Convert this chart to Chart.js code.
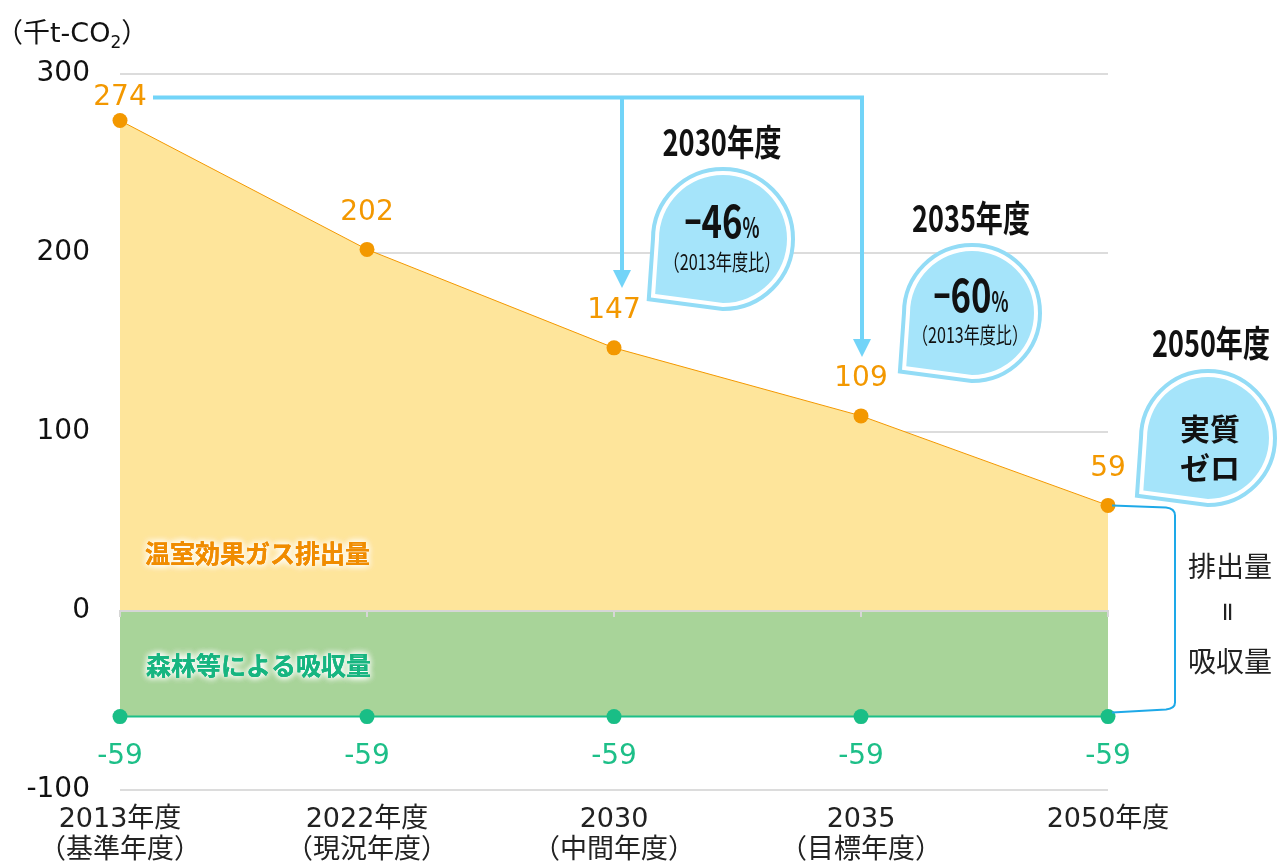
<!DOCTYPE html>
<html><head><meta charset="utf-8">
<script src="https://cdn.jsdelivr.net/npm/chart.js@4/dist/chart.umd.min.js"></script>
<style>html,body{margin:0;padding:0;background:#fff}#wrap{width:1278px;height:865px}</style>
</head><body><div id="wrap"><canvas id="c" width="1278" height="865"></canvas></div>
<script>
// ---- data ----
const categories = [['2013年度','（基準年度）'],['2022年度','（現況年度）'],['2030','（中間年度）'],['2035','（目標年度）'],'2050年度'];
const emissions = [274, 202, 147, 109, 59];
const absorption = [-59, -59, -59, -59, -59];
const yTicks = [-100, 0, 100, 200, 300];
const unitLabel = ['（千t-CO', '2', '）'];
const seriesNames = ['温室効果ガス排出量', '森林等による吸収量'];
const calloutTitles = ['2030年度', '2035年度', '2050年度'];
const calloutValues = ['−46', '−60'];
const calloutSub = '（2013年度比）';
const zeroText = ['実質', 'ゼロ'];
const balanceText = ['排出量', '=', '吸収量'];

const LATIN = '"DejaVu Sans","Noto Sans CJK JP",sans-serif';
const JP = '"Noto Sans CJK JP","DejaVu Sans",sans-serif';
const ORANGE = '#f39800', GREEN = '#1dbf88', BLUE = '#72d4f8', BUB = '#a5e4fa', BUBRING = '#93dcf6';

function drawRuns(ctx, runs, x0, baseline, align) {
  let total = 0; const ws = [];
  runs.forEach(r => { ctx.font = r.font; const m = ctx.measureText(r.t).width; const w = r.w || m; ws.push({m, w}); total += w; });
  let x = align === 'left' ? x0 : x0 - total / 2;
  runs.forEach((r, i) => {
    ctx.save(); ctx.font = r.font; ctx.fillStyle = r.color || '#111';
    ctx.translate(x, baseline + (r.dy || 0)); ctx.scale(ws[i].w / ws[i].m, 1);
    ctx.textAlign = 'left'; ctx.textBaseline = 'alphabetic'; ctx.fillText(r.t, 0, 0); ctx.restore();
    x += ws[i].w;
  });
}

function bubblePath(ctx, cx, cy, r) {
  ctx.beginPath();
  ctx.arc(cx, cy, r, Math.PI, 2.5 * Math.PI);
  ctx.lineTo(cx - r * 1.06, cy + r * 0.86);
  ctx.closePath();
}
function drawBubble(ctx, cx, cy, r) {
  ctx.save();
  ctx.lineJoin = 'miter'; ctx.miterLimit = 4;
  bubblePath(ctx, cx, cy, r);
  ctx.strokeStyle = BUBRING; ctx.lineWidth = 16; ctx.stroke();
  ctx.strokeStyle = '#ffffff'; ctx.lineWidth = 8; ctx.stroke();
  ctx.fillStyle = BUB; ctx.fill();
  ctx.restore();
}

const overlay = {
  id: 'overlay',
  afterDatasetsDraw(chart) {
    const {ctx, scales: {x, y}, chartArea: ca} = chart;
    const y0 = y.getPixelForValue(0);
    ctx.save();
    // zero line & ticks
    ctx.strokeStyle = '#d6d6d6'; ctx.lineWidth = 2;
    ctx.beginPath(); ctx.moveTo(ca.left, y0); ctx.lineTo(ca.right, y0); ctx.stroke();
    categories.forEach((c, i) => {
      const px = x.getPixelForValue(i);
      ctx.beginPath(); ctx.moveTo(px, y0 - 1); ctx.lineTo(px, y0 + 6); ctx.stroke();
    });
    // series labels with glow
    const drawGlow = (t, color, px, py) => {
      ctx.font = 'bold 25px ' + JP; ctx.textAlign = 'left'; ctx.textBaseline = 'middle';
      ctx.shadowColor = 'rgba(255,255,255,1)'; ctx.shadowBlur = 7;
      ctx.fillStyle = color;
      for (let k = 0; k < 3; k++) ctx.fillText(t, px, py);
      ctx.shadowBlur = 0; ctx.shadowColor = 'transparent';
      ctx.fillText(t, px, py);
    };
    drawGlow(seriesNames[0], '#f08c00', ca.left + 25, 553);
    drawGlow(seriesNames[1], '#17b580', ca.left + 26, 665);

    // data labels
    ctx.font = '28px ' + LATIN; ctx.textAlign = 'center'; ctx.textBaseline = 'middle';
    emissions.forEach((v, i) => {
      ctx.fillStyle = ORANGE;
      ctx.fillText(String(v), x.getPixelForValue(i), y.getPixelForValue(v) + (i === 0 ? -23 : -37));
    });
    absorption.forEach((v, i) => {
      ctx.fillStyle = GREEN;
      ctx.fillText(String(v), x.getPixelForValue(i), y.getPixelForValue(v) + 40);
    });

    // arrows
    const xa = x.getPixelForValue(2) + 8, xb = x.getPixelForValue(3) + 1;
    const ytop = y.getPixelForValue(emissions[0]) - 23;
    const tipA = 288, tipB = 357;
    ctx.strokeStyle = BLUE; ctx.fillStyle = BLUE; ctx.lineWidth = 4; ctx.lineJoin = 'miter';
    ctx.beginPath(); ctx.moveTo(x.getPixelForValue(0) + 33, ytop); ctx.lineTo(xb, ytop); ctx.lineTo(xb, tipB - 16); ctx.stroke();
    ctx.beginPath(); ctx.moveTo(xa, ytop); ctx.lineTo(xa, tipA - 16); ctx.stroke();
    [[xa, tipA], [xb, tipB]].forEach(([ax, ty]) => {
      ctx.beginPath(); ctx.moveTo(ax - 9, ty - 18); ctx.lineTo(ax + 9, ty - 18); ctx.lineTo(ax, ty); ctx.closePath(); ctx.fill();
    });

    // bracket
    const yE = y.getPixelForValue(emissions[4]), yA = y.getPixelForValue(absorption[4]);
    const xe = x.getPixelForValue(4);
    ctx.strokeStyle = '#1ea9e8'; ctx.lineWidth = 2;
    ctx.beginPath();
    ctx.moveTo(xe + 4, yE); ctx.lineTo(xe + 58, yE + 2);
    ctx.quadraticCurveTo(xe + 67, yE + 3, xe + 67, yE + 10);
    ctx.lineTo(xe + 67, yA - 14);
    ctx.quadraticCurveTo(xe + 67, yA - 8, xe + 58, yA - 7);
    ctx.lineTo(xe + 4, yA - 4);
    ctx.stroke();
    ctx.restore();

    // balance text
    ctx.save();
    ctx.fillStyle = '#222'; ctx.font = '28px ' + JP; ctx.textAlign = 'center'; ctx.textBaseline = 'middle';
    ctx.fillText(balanceText[0], 1230, 566);
    ctx.save(); ctx.translate(1226, 612); ctx.rotate(Math.PI / 2); ctx.font = '26px ' + LATIN; ctx.fillText(balanceText[1], 0, 0); ctx.restore();
    ctx.fillText(balanceText[2], 1230, 661);
    ctx.restore();

    // callouts
    drawBubble(ctx, 723, 239, 64);
    drawBubble(ctx, 972, 313, 62);
    drawBubble(ctx, 1208, 438, 61);
    const tf = 'bold 36px ' + JP;
    drawRuns(ctx, [{t: calloutTitles[0], font: tf, w: 119}], 722, 156);
    drawRuns(ctx, [{t: calloutTitles[1], font: tf, w: 118}], 971, 232);
    drawRuns(ctx, [{t: calloutTitles[2], font: tf, w: 118}], 1211, 357);
    const big = (val, cx, bl) => drawRuns(ctx, [
      {t: val[0], font: 'bold 44px ' + JP, w: 17},
      {t: val.slice(1), font: 'bold 46px ' + JP, w: 41},
      {t: '%', font: 'bold 28px ' + JP, w: 17}], cx, bl);
    big(calloutValues[0], 722, 238);
    big(calloutValues[1], 971, 312);
    drawRuns(ctx, [{t: calloutSub, font: '22px ' + JP, w: 117}], 722, 270);
    drawRuns(ctx, [{t: calloutSub, font: '22px ' + JP, w: 116}], 970, 343);
    ctx.save();
    ctx.fillStyle = '#111'; ctx.font = 'bold 30px ' + JP; ctx.textAlign = 'center'; ctx.textBaseline = 'middle';
    ctx.fillText(zeroText[0], 1210, 429);
    ctx.fillText(zeroText[1], 1210, 468);
    ctx.restore();

    // unit label
    drawRuns(ctx, [
      {t: unitLabel[0], font: '27px ' + LATIN},
      {t: unitLabel[1], font: '17px ' + LATIN, dy: 6},
      {t: unitLabel[2], font: '27px ' + LATIN}], -4, 42, 'left');
  }
};

new Chart(document.getElementById('c').getContext('2d'), {
  type: 'line',
  data: {
    labels: categories,
    datasets: [
      {label: seriesNames[0], data: emissions, borderColor: ORANGE, borderWidth: 1, backgroundColor: '#fee59b',
       fill: 'origin', pointRadius: 7.5, pointHoverRadius: 7.5, pointBackgroundColor: ORANGE, pointBorderWidth: 0, tension: 0, clip: false},
      {label: seriesNames[1], data: absorption, borderColor: GREEN, borderWidth: 2, backgroundColor: '#a8d499',
       fill: 'origin', pointRadius: 7.5, pointHoverRadius: 7.5, pointBackgroundColor: '#19be86', pointBorderWidth: 0, tension: 0, clip: false}
    ]
  },
  options: {
    responsive: false, animation: false, devicePixelRatio: 1,
    layout: {padding: {left: 0, right: 170, top: 74, bottom: 0}},
    plugins: {legend: {display: false}, tooltip: {enabled: false}},
    scales: {
      x: {
        grid: {display: false, drawTicks: false}, border: {display: false},
        ticks: {font: {family: LATIN, size: 27, lineHeight: 1.15}, color: '#222', padding: 14, maxRotation: 0, autoSkip: false},
        afterFit: s => { s.height = 75; }
      },
      y: {
        min: -100, max: 300,
        grid: {color: '#dcdcdc', lineWidth: 2, drawTicks: false}, border: {display: false},
        ticks: {font: {family: LATIN, size: 28}, color: '#111', padding: 30, callback: v => String(v)},
        afterBuildTicks: s => { s.ticks = yTicks.map(v => ({value: v})); },
        afterFit: s => { s.width = 120; }
      }
    }
  },
  plugins: [overlay]
});
</script>
</body></html>
